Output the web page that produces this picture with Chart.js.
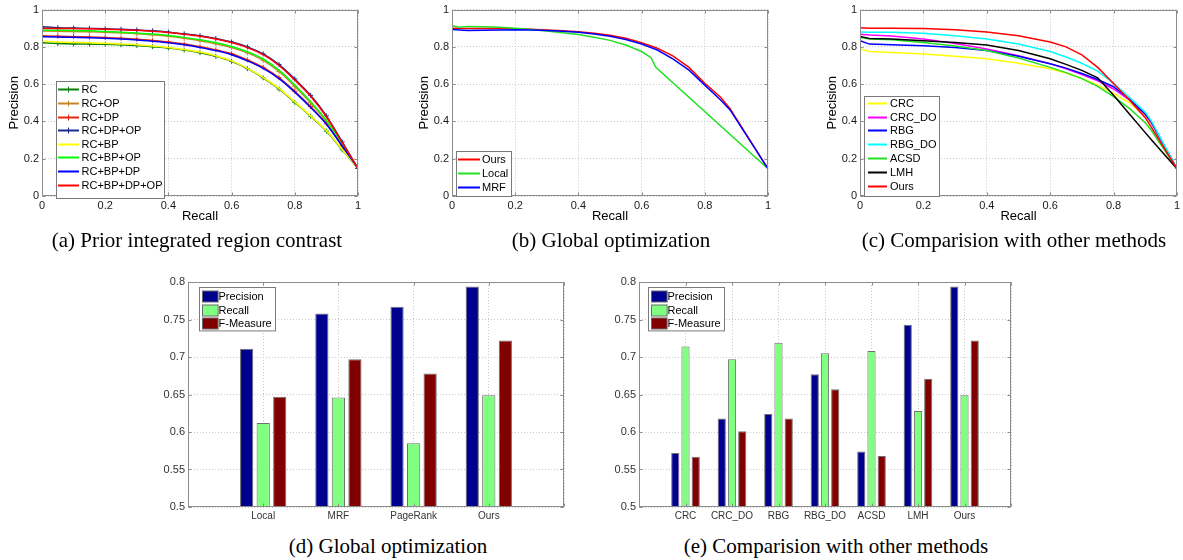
<!DOCTYPE html>
<html><head><meta charset="utf-8">
<script src="https://cdn.jsdelivr.net/npm/chart.js@4.4.1/dist/chart.umd.min.js"></script>
<style>
html,body{margin:0;padding:0;background:#fff;}
body{width:1183px;height:560px;position:relative;overflow:hidden;font-family:"Liberation Sans",Arial,sans-serif;}
canvas{position:absolute;}
.cap{position:absolute;font-family:"Liberation Serif","Times New Roman",serif;font-size:21px;line-height:21px;white-space:nowrap;transform:translateX(-50%);color:#000;}
</style></head><body>
<canvas id="ca" width="380" height="230" style="left:0px;top:0px"></canvas>
<canvas id="cb" width="380" height="230" style="left:410px;top:0px"></canvas>
<canvas id="cc" width="365" height="230" style="left:818px;top:0px"></canvas>
<canvas id="cd" width="440" height="260" style="left:140px;top:270px"></canvas>
<canvas id="ce" width="440" height="260" style="left:591px;top:270px"></canvas>
<div class="cap" style="left:197px;top:230px">(a) Prior integrated region contrast</div>
<div class="cap" style="left:611px;top:230px">(b) Global optimization</div>
<div class="cap" style="left:1014px;top:230px">(c) Comparision with other methods</div>
<div class="cap" style="left:388px;top:536px">(d) Global optimization</div>
<div class="cap" style="left:836px;top:536px">(e) Comparision with other methods</div>
<script>
// ---------- (a) Prior integrated region contrast ----------
const recallA = [0,0.05,0.1,0.15,0.2,0.25,0.3,0.35,0.4,0.45,0.5,0.55,0.6,0.65,0.7,0.75,0.8,0.85,0.9,0.95,1];
const precRC          = [0.822,0.818,0.816,0.815,0.814,0.811,0.807,0.801,0.794,0.783,0.769,0.749,0.722,0.683,0.634,0.574,0.502,0.428,0.348,0.248,0.148];
const precRC_OP       = [0.885,0.884,0.882,0.881,0.879,0.876,0.871,0.865,0.857,0.846,0.833,0.817,0.797,0.768,0.728,0.668,0.588,0.500,0.400,0.277,0.148];
const precRC_DP       = [0.860,0.857,0.855,0.853,0.850,0.846,0.841,0.834,0.826,0.815,0.801,0.784,0.763,0.730,0.690,0.635,0.562,0.480,0.388,0.270,0.148];
const precRC_DP_OP    = [0.908,0.903,0.901,0.899,0.897,0.894,0.891,0.886,0.879,0.870,0.860,0.845,0.826,0.800,0.762,0.705,0.628,0.540,0.430,0.290,0.148];
const precRC_BP       = [0.830,0.826,0.824,0.822,0.820,0.816,0.812,0.805,0.797,0.786,0.772,0.752,0.725,0.685,0.637,0.577,0.505,0.430,0.350,0.250,0.148];
const precRC_BP_OP    = [0.890,0.889,0.888,0.886,0.882,0.879,0.874,0.869,0.861,0.851,0.838,0.822,0.802,0.774,0.735,0.675,0.595,0.505,0.405,0.280,0.148];
const precRC_BP_DP    = [0.855,0.853,0.851,0.849,0.846,0.842,0.837,0.830,0.822,0.811,0.797,0.780,0.758,0.725,0.685,0.630,0.557,0.475,0.385,0.268,0.148];
const precRC_BP_DP_OP = [0.900,0.899,0.898,0.897,0.895,0.892,0.889,0.884,0.877,0.868,0.857,0.842,0.823,0.796,0.758,0.700,0.622,0.535,0.425,0.287,0.148];

// ---------- (b) Global optimization (PR curves) ----------
const recallB      = [0,0.05,0.1,0.15,0.2,0.25,0.3,0.35,0.4,0.45,0.5,0.55,0.6,0.65,0.7,0.75,0.8,0.85,0.88,0.95,1];
const precOursB    = [0.900,0.898,0.898,0.898,0.897,0.894,0.891,0.887,0.881,0.873,0.862,0.846,0.823,0.793,0.750,0.690,0.605,0.530,0.468,0.280,0.146];
const precMrfB     = [0.893,0.888,0.889,0.890,0.892,0.891,0.888,0.884,0.878,0.869,0.857,0.840,0.815,0.783,0.734,0.675,0.595,0.515,0.462,0.278,0.146];
const recallLocalB = [0,0.02,0.05,0.1,0.15,0.2,0.25,0.3,0.35,0.4,0.45,0.5,0.55,0.6,0.63,0.645,1];
const precLocalB   = [0.915,0.905,0.910,0.908,0.905,0.900,0.893,0.885,0.876,0.866,0.852,0.835,0.810,0.775,0.742,0.690,0.146];

// ---------- (c) Comparison with other methods (PR curves) ----------
const recallC    = [0,0.03,0.1,0.2,0.3,0.4,0.5,0.6,0.65,0.7,0.75,0.8,0.85,0.9,0.92,1];
const precCRC    = [0.789,0.775,0.770,0.762,0.750,0.736,0.712,0.683,0.660,0.630,0.595,0.551,0.500,0.428,0.385,0.146];
const precCRC_DO = [0.868,0.864,0.858,0.842,0.818,0.789,0.752,0.710,0.683,0.651,0.618,0.574,0.515,0.437,0.390,0.146];
const precRBG    = [0.833,0.815,0.812,0.806,0.797,0.780,0.750,0.710,0.686,0.657,0.625,0.586,0.520,0.440,0.395,0.146];
const precRBG_DO = [0.880,0.879,0.878,0.873,0.860,0.842,0.815,0.775,0.746,0.712,0.670,0.605,0.530,0.450,0.400,0.146];
const precACSD   = [0.850,0.842,0.838,0.824,0.805,0.780,0.740,0.690,0.662,0.630,0.588,0.533,0.470,0.393,0.350,0.146];
const precLMH    = [0.856,0.845,0.842,0.833,0.823,0.810,0.780,0.736,0.706,0.674,0.634,0.540,0.440,0.340,0.300,0.146];
const precOursC  = [0.903,0.900,0.900,0.898,0.892,0.880,0.860,0.826,0.800,0.757,0.690,0.604,0.515,0.420,0.367,0.146];

// ---------- (d) Global optimization (bars) ----------
const categoriesD = ['Local','MRF','PageRank','Ours'];
const precisionD  = [0.711,0.758,0.767,0.794];
const recallD     = [0.612,0.646,0.585,0.649];
const fmeasureD   = [0.647,0.697,0.678,0.722];

// ---------- (e) Comparison with other methods (bars) ----------
const categoriesE = ['CRC','CRC_DO','RBG','RBG_DO','ACSD','LMH','Ours'];
const precisionE  = [0.572,0.618,0.624,0.677,0.574,0.743,0.794];
const recallE     = [0.714,0.697,0.719,0.705,0.708,0.628,0.649];
const fmeasureE   = [0.567,0.601,0.618,0.657,0.568,0.671,0.722];

const prTicks  = [0,0.2,0.4,0.6,0.8,1];
const barTicks = [0.5,0.55,0.6,0.65,0.7,0.75,0.8];

// ---------- helpers ----------
const FONT = '"Liberation Sans", Arial, Helvetica, sans-serif';
const GRID = '#c8c8c8', FRAME = '#8c8c8c', TXT = '#1a1a1a';
const fmt = v => String(+(+v).toFixed(2));
const pts = (xs, ys) => xs.map((x, i) => ({x: x, y: ys[i]}));

function drawCross(ctx, x, y, r, color) {
  ctx.strokeStyle = color; ctx.lineWidth = 1;
  ctx.beginPath(); ctx.moveTo(x - r, y); ctx.lineTo(x + r, y); ctx.moveTo(x, y - r); ctx.lineTo(x, y + r); ctx.stroke();
}

const framePlugin = {
  id: 'frameLegend',
  afterDraw(chart, args, opts) {
    const ctx = chart.ctx, a = chart.chartArea;
    const L = Math.round(a.left) + 0.5, T = Math.round(a.top) + 0.5;
    const R = Math.round(a.right) - 0.5, B = Math.round(a.bottom) - 0.5;
    ctx.save();
    ctx.strokeStyle = FRAME; ctx.lineWidth = 1;
    const xs = chart.scales.x, ys = chart.scales.y;
    ctx.beginPath();
    xs.ticks.forEach((t, i) => {
      const px = Math.round(xs.getPixelForTick(i)) + 0.5;
      ctx.moveTo(px, B); ctx.lineTo(px, B - 3);
      ctx.moveTo(px, T); ctx.lineTo(px, T + 3);
    });
    ys.ticks.forEach((t, i) => {
      const py = Math.round(ys.getPixelForTick(i)) + 0.5;
      ctx.moveTo(L, py); ctx.lineTo(L + 3, py);
      ctx.moveTo(R, py); ctx.lineTo(R - 3, py);
    });
    ctx.stroke();
    ctx.strokeRect(L, T, R - L, B - T);
    const lg = opts.legend;
    if (lg) {
      const bx = Math.round(a.left + lg.box[0]) + 0.5, by = Math.round(a.top + lg.box[1]) + 0.5;
      ctx.fillStyle = '#fff'; ctx.fillRect(bx, by, lg.box[2], lg.box[3]);
      ctx.strokeStyle = '#7a7a7a'; ctx.strokeRect(bx, by, lg.box[2], lg.box[3]);
      ctx.font = '11px ' + FONT; ctx.textBaseline = 'middle'; ctx.textAlign = 'left';
      chart.data.datasets.forEach((ds, i) => {
        const y = Math.round(a.top + lg.row0 + i * lg.gap) + 0.5;
        if (lg.kind === 'line') {
          const x0 = a.left + lg.sample[0], x1 = a.left + lg.sample[1];
          ctx.strokeStyle = ds.borderColor; ctx.lineWidth = 2;
          ctx.beginPath(); ctx.moveTo(x0, y); ctx.lineTo(x1, y); ctx.stroke();
          if (ds.pointRadius > 0) drawCross(ctx, (x0 + x1) / 2, y, 3, ds.borderColor);
        } else {
          const x0 = Math.round(a.left + lg.sample[0]) + 0.5;
          const w = lg.sample[1] - lg.sample[0];
          ctx.fillStyle = ds.backgroundColor; ctx.fillRect(x0, y - 5.5, w, 11);
          ctx.strokeStyle = '#6a6a6a'; ctx.lineWidth = 1; ctx.strokeRect(x0, y - 5.5, w, 11);
        }
        ctx.fillStyle = '#000';
        ctx.fillText(ds.label, a.left + lg.text, y + 0.5);
      });
    }
    ctx.restore();
  }
};

function prOptions(padRight, legend) {
  return {
    responsive: false, animation: false, devicePixelRatio: 1,
    layout: {padding: {top: 7, right: padRight, left: 0, bottom: 0}},
    plugins: {legend: {display: false}, tooltip: {enabled: false}, frameLegend: {legend: legend}},
    scales: {
      x: {
        type: 'linear', min: 0, max: 1,
        afterBuildTicks: s => { s.ticks = prTicks.map(v => ({value: v})); },
        afterFit: s => { s.height = 34; },
        ticks: {font: {size: 11, family: FONT}, color: TXT, padding: 3, maxRotation: 0, callback: fmt},
        grid: {color: GRID, lineWidth: 1, drawTicks: false},
        border: {display: false, dash: [1, 2]},
        title: {display: true, text: 'Recall', font: {size: 13, family: FONT}, color: '#000', padding: {top: 0, bottom: 6}}
      },
      y: {
        type: 'linear', min: 0, max: 1,
        afterBuildTicks: s => { s.ticks = prTicks.map(v => ({value: v})); },
        afterFit: s => { s.width = 42; },
        ticks: {font: {size: 11, family: FONT}, color: TXT, padding: 3, callback: fmt},
        grid: {color: GRID, lineWidth: 1, drawTicks: false},
        border: {display: false, dash: [1, 2]},
        title: {display: true, text: 'Precision', font: {size: 13, family: FONT}, color: '#000', padding: {top: 7, bottom: 0}}
      }
    }
  };
}

function lineDs(label, xs, ys, color, marker, order, smooth) {
  return {label: label, data: pts(xs, ys), borderColor: color, backgroundColor: color,
    borderWidth: 1.5, pointRadius: marker ? 2.5 : 0, pointStyle: 'cross', pointBorderWidth: 1,
    pointBorderColor: color, fill: false, order: order,
    cubicInterpolationMode: smooth ? 'monotone' : 'default', tension: 0};
}

// (a)
new Chart(document.getElementById('ca'), {
  type: 'line',
  data: {datasets: [
    lineDs('RC',          recallA, precRC,          '#0b7f0b', true, 8, true),
    lineDs('RC+OP',       recallA, precRC_OP,       '#c5862a', true, 7, true),
    lineDs('RC+DP',       recallA, precRC_DP,       '#e3260e', true, 6, true),
    lineDs('RC+DP+OP',    recallA, precRC_DP_OP,    '#1c2a8c', true, 5, true),
    lineDs('RC+BP',       recallA, precRC_BP,       '#ffff00', false, 4, true),
    lineDs('RC+BP+OP',    recallA, precRC_BP_OP,    '#00ff00', false, 3, true),
    lineDs('RC+BP+DP',    recallA, precRC_BP_DP,    '#0000ff', false, 2, true),
    lineDs('RC+BP+DP+OP', recallA, precRC_BP_DP_OP, '#ff0000', false, 1, true)
  ]},
  options: prOptions(22, {kind: 'line', box: [14, 71, 108, 117], row0: 79.7, gap: 13.6, sample: [16, 37], text: 39.5})
, plugins: [framePlugin]});

// (b)
new Chart(document.getElementById('cb'), {
  type: 'line',
  data: {datasets: [
    lineDs('Ours',  recallB,      precOursB,  '#ff0000', false, 3, false),
    lineDs('Local', recallLocalB, precLocalB, '#22e022', false, 2, false),
    lineDs('MRF',   recallB,      precMrfB,   '#0000ff', false, 1, false)
  ]},
  options: prOptions(22, {kind: 'line', box: [4, 141, 55, 45], row0: 149, gap: 14.2, sample: [6, 28], text: 30})
, plugins: [framePlugin]});

// (c)
new Chart(document.getElementById('cc'), {
  type: 'line',
  data: {datasets: [
    lineDs('CRC',    recallC, precCRC,    '#ffff00', false, 7, false),
    lineDs('CRC_DO', recallC, precCRC_DO, '#ff00ff', false, 6, false),
    lineDs('RBG',    recallC, precRBG,    '#0000ff', false, 5, false),
    lineDs('RBG_DO', recallC, precRBG_DO, '#00ffff', false, 4, false),
    lineDs('ACSD',   recallC, precACSD,   '#22e022', false, 3, false),
    lineDs('LMH',    recallC, precLMH,    '#000000', false, 2, false),
    lineDs('Ours',   recallC, precOursC,  '#ff0000', false, 1, false)
  ]},
  options: prOptions(6, {kind: 'line', box: [4, 86, 75, 100], row0: 93, gap: 13.9, sample: [8, 27], text: 30})
, plugins: [framePlugin]});

function barOptions(padRight, legend) {
  return {
    responsive: false, animation: false, devicePixelRatio: 1,
    layout: {padding: {top: 12, right: padRight, left: 0, bottom: 0}},
    plugins: {legend: {display: false}, tooltip: {enabled: false}, frameLegend: {legend: legend}},
    datasets: {bar: {categoryPercentage: 0.66, barPercentage: 0.8}},
    scales: {
      x: {
        type: 'category', offset: false,
        afterFit: s => { s.height = 23; },
        ticks: {font: {size: 10, family: FONT}, color: '#333', padding: 3, maxRotation: 0, autoSkip: false},
        grid: {color: GRID, lineWidth: 1, drawTicks: false, offset: false},
        border: {display: false, dash: [1, 2]}
      },
      y: {
        type: 'linear', min: 0.5, max: 0.8,
        afterBuildTicks: s => { s.ticks = barTicks.map(v => ({value: v})); },
        afterFit: s => { s.width = 48; },
        ticks: {font: {size: 11, family: FONT}, color: '#333', padding: 3, callback: fmt},
        grid: {color: GRID, lineWidth: 1, drawTicks: false},
        border: {display: false, dash: [1, 2]}
      }
    }
  };
}
function barDs(label, vals, color) {
  return {label: label, data: [null].concat(vals, [null]), backgroundColor: color,
    borderColor: '#707070', borderWidth: 1};
}

new Chart(document.getElementById('cd'), {
  type: 'bar',
  data: {labels: [''].concat(categoriesD, ['']), datasets: [
    barDs('Precision', precisionD, '#00008f'),
    barDs('Recall',    recallD,    '#80ff80'),
    barDs('F-Measure', fmeasureD,  '#800000')
  ]},
  options: barOptions(16, {kind: 'box', box: [11.3, 5.3, 76, 43.4], row0: 13.7, gap: 13.8, sample: [13.7, 29.3], text: 30.5})
, plugins: [framePlugin]});

new Chart(document.getElementById('ce'), {
  type: 'bar',
  data: {labels: [''].concat(categoriesE, ['']), datasets: [
    barDs('Precision', precisionE, '#00008f'),
    barDs('Recall',    recallE,    '#80ff80'),
    barDs('F-Measure', fmeasureE,  '#800000')
  ]},
  options: barOptions(20, {kind: 'box', box: [9.3, 5.3, 76, 43.4], row0: 13.7, gap: 13.8, sample: [11.7, 27.3], text: 28.5})
, plugins: [framePlugin]});
</script>
</body></html>
